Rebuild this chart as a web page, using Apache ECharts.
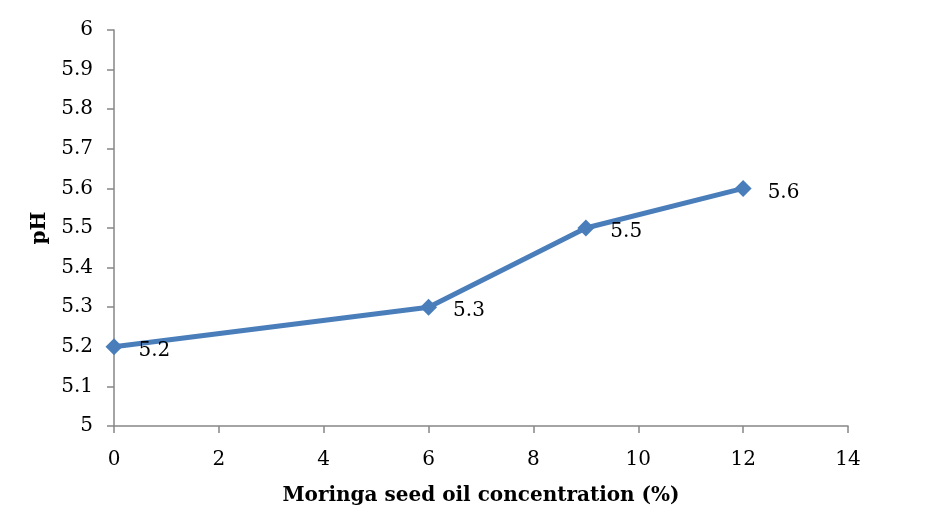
<!DOCTYPE html>
<html>
<head>
<meta charset="utf-8">
<script src="https://cdn.jsdelivr.net/npm/echarts@6/dist/echarts.min.js"></script>
<style>
  html, body { margin: 0; padding: 0; background: #fff; }
  #chart { width: 938px; height: 530px; }
</style>
</head>
<body>
<div id="chart"></div>
<script>
var concentration = [0, 6, 9, 12];
var phValues = [5.2, 5.3, 5.5, 5.6];

var xTitle = 'Moringa seed oil concentration (%)';
var yTitle = 'pH';

var font = '"DejaVu Serif", "Liberation Serif", serif';
var axisGray = '#868686';

var chart = echarts.init(document.getElementById('chart'));

var points = [];
for (var i = 0; i < concentration.length; i++) {
  points.push([concentration[i], phValues[i]]);
}

var option = {
  animation: false,
  backgroundColor: '#fff',
  grid: { left: 114, right: 90, top: 30, bottom: 104 },
  xAxis: {
    type: 'value',
    min: 0,
    max: 14,
    interval: 2,
    name: xTitle,
    nameLocation: 'middle',
    nameGap: 60,
    nameTextStyle: { fontFamily: font, fontWeight: 'bold', fontSize: 20, color: '#000' },
    axisLine: { show: true, lineStyle: { color: axisGray, width: 1.5 } },
    axisTick: { show: true, length: 7, lineStyle: { color: axisGray, width: 1.5 } },
    axisLabel: { fontFamily: font, fontSize: 20, color: '#000', margin: 24 },
    splitLine: { show: false }
  },
  yAxis: {
    type: 'value',
    min: 5,
    max: 6,
    interval: 0.1,
    name: yTitle,
    nameLocation: 'middle',
    nameGap: 64,
    nameRotate: 90,
    nameTextStyle: { fontFamily: font, fontWeight: 'bold', fontSize: 20, color: '#000' },
    axisLine: { show: true, lineStyle: { color: axisGray, width: 1.5 } },
    axisTick: { show: true, length: 7, lineStyle: { color: axisGray, width: 1.5 } },
    axisLabel: {
      fontFamily: font, fontSize: 20, color: '#000', margin: 21,
      formatter: function(v) { return Math.round(v * 10) / 10 + ''; }
    },
    splitLine: { show: false }
  },
  series: [
    {
      type: 'line',
      data: points,
      symbol: 'diamond',
      symbolSize: 17,
      lineStyle: { color: '#4a7ebb', width: 5 },
      itemStyle: { color: '#4a7ebb' },
      label: {
        show: true,
        position: 'right',
        distance: 16,
        offset: [0, 4],
        fontFamily: font,
        fontSize: 20,
        color: '#000',
        formatter: function(p) { return p.value[1]; }
      }
    }
  ]
};

chart.setOption(option);
</script>
</body>
</html>
